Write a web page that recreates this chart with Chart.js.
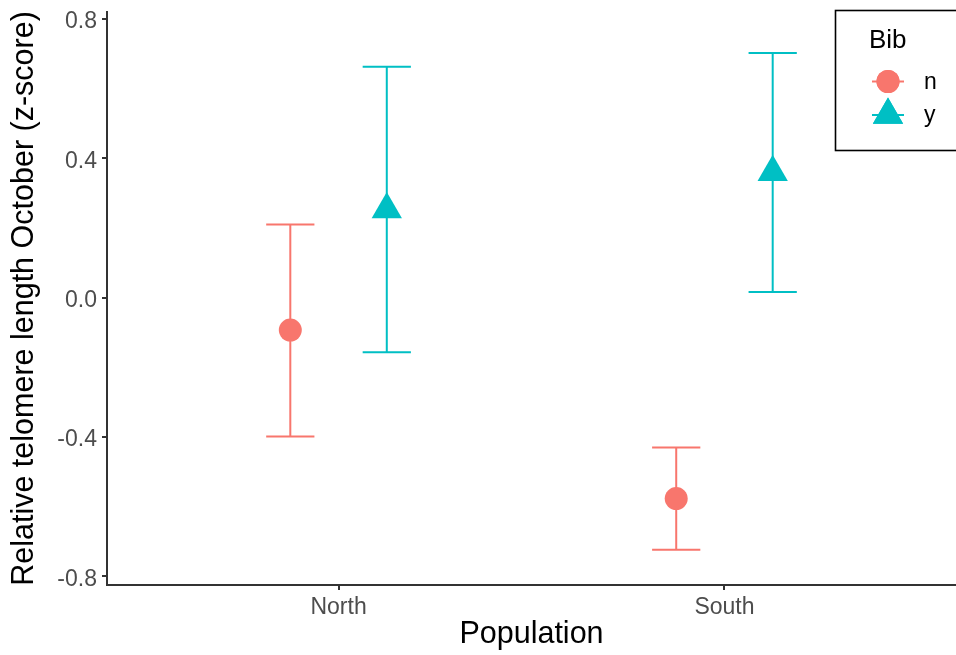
<!DOCTYPE html>
<html>
<head>
<meta charset="utf-8">
<script src="https://cdn.jsdelivr.net/npm/chart.js@4/dist/chart.umd.min.js"></script>
<style>
  html, body { margin: 0; padding: 0; background: #ffffff; }
  #wrap { width: 956px; height: 655px; position: relative; }
</style>
</head>
<body>
<div id="wrap"><canvas id="c" width="956" height="655"></canvas></div>
<script>
// ---- data ----
const categories = ['North', 'South'];
const groups = ['n', 'y'];
const nMean = [-0.093, -0.577];
const nLow  = [-0.399, -0.724];
const nHigh = [0.210, -0.430];
const yMean = [0.253, 0.360];
const yLow  = [-0.157, 0.016];
const yHigh = [0.663, 0.702];
const yTickValues = [-0.8, -0.4, 0.0, 0.4, 0.8];
const xAxisTitle = 'Population';
const yAxisTitle = 'Relative telomere length October (z-score)';
const legendTitle = 'Bib';

// ---- style ----
const COLORS = { n: '#F8766D', y: '#00BFC4' };
const DODGE = 0.125;
const CAP = 0.0625;
const FONT = "'Liberation Sans', Arial, Helvetica, sans-serif";
const AXIS = '#333333';
const TICKTXT = '#4D4D4D';

function pts(means, sign) {
  return means.map((v, i) => ({ x: i + 1 + sign * DODGE, y: v }));
}

const series = [
  { key: 'n', mean: nMean, low: nLow, high: nHigh, sign: -1, style: 'circle', radius: 11.5 },
  { key: 'y', mean: yMean, low: yLow, high: yHigh, sign: 1, style: 'triangle', radius: 17.5 }
];

const errorBarPlugin = {
  id: 'errorBars',
  beforeDatasetsDraw(chart) {
    const { ctx, scales: { x, y } } = chart;
    ctx.save();
    series.forEach(s => {
      ctx.strokeStyle = COLORS[s.key];
      ctx.lineWidth = 2;
      s.mean.forEach((m, i) => {
        const xv = i + 1 + s.sign * DODGE;
        const px = x.getPixelForValue(xv);
        const pl = x.getPixelForValue(xv - CAP);
        const pr = x.getPixelForValue(xv + CAP);
        const pt = y.getPixelForValue(s.high[i]);
        const pb = y.getPixelForValue(s.low[i]);
        ctx.beginPath();
        ctx.moveTo(px, pt); ctx.lineTo(px, pb);
        ctx.moveTo(pl, pt); ctx.lineTo(pr, pt);
        ctx.moveTo(pl, pb); ctx.lineTo(pr, pb);
        ctx.stroke();
      });
    });
    ctx.restore();
  }
};

const legendPlugin = {
  id: 'customLegend',
  afterDraw(chart) {
    const ctx = chart.ctx;
    ctx.save();
    ctx.strokeStyle = '#000000';
    ctx.lineWidth = 1.6;
    ctx.strokeRect(835.5, 10.5, 130, 140);
    ctx.fillStyle = '#000000';
    ctx.font = '26px ' + FONT;
    ctx.textAlign = 'left';
    ctx.textBaseline = 'alphabetic';
    ctx.fillText(legendTitle, 869, 48);
    const rows = [81.5, 115];
    series.forEach((s, k) => {
      const cy = rows[k];
      const cx = 888;
      ctx.strokeStyle = COLORS[s.key];
      ctx.lineWidth = 2;
      ctx.beginPath();
      ctx.moveTo(872, cy); ctx.lineTo(904, cy);
      ctx.stroke();
      ctx.fillStyle = COLORS[s.key];
      Chart.helpers.drawPoint(ctx, { pointStyle: s.style, radius: s.radius, borderWidth: 0, rotation: 0 }, cx, cy);
      ctx.fill();
      ctx.fillStyle = '#000000';
      ctx.font = '23px ' + FONT;
      ctx.textBaseline = 'middle';
      ctx.fillText(groups[k], 924, cy + 1);
    });
    ctx.restore();
  }
};

new Chart(document.getElementById('c'), {
  type: 'scatter',
  data: {
    datasets: series.map(s => ({
      label: s.key,
      data: pts(s.mean, s.sign),
      pointStyle: s.style,
      pointRadius: s.radius,
      pointHoverRadius: s.radius,
      pointBorderWidth: 0,
      backgroundColor: COLORS[s.key],
      borderColor: COLORS[s.key]
    }))
  },
  options: {
    responsive: false,
    animation: false,
    events: [],
    layout: { autoPadding: false, padding: { top: 12, right: 0, left: 0, bottom: 0 } },
    plugins: { legend: { display: false }, tooltip: { enabled: false } },
    scales: {
      x: {
        type: 'linear',
        min: 0.4,
        max: 2.6,
        afterBuildTicks(scale) { scale.ticks = categories.map((c, i) => ({ value: i + 1 })); },
        afterFit(scale) { scale.height = 70; scale.paddingLeft = 0; scale.paddingRight = 0; },
        ticks: {
          callback: (v) => categories[Math.round(v) - 1] || '',
          color: TICKTXT,
          font: { family: FONT, size: 23 },
          padding: 4,
          maxRotation: 0,
          autoSkip: false
        },
        grid: { display: true, drawOnChartArea: false, drawTicks: true, tickLength: 5, color: AXIS, lineWidth: 2 },
        border: { display: true, color: AXIS, width: 2 },
        title: { display: true, text: xAxisTitle, color: '#000000', font: { family: FONT, size: 30.5 }, padding: { top: 0, bottom: 2 } }
      },
      y: {
        type: 'linear',
        min: -0.825,
        max: 0.82,
        afterBuildTicks(scale) { scale.ticks = yTickValues.map(v => ({ value: v })); },
        afterFit(scale) { scale.width = 107; scale.paddingTop = 0; scale.paddingBottom = 0; },
        ticks: {
          callback: (v) => Number(v).toFixed(1),
          color: TICKTXT,
          font: { family: FONT, size: 23 },
          padding: 5,
          labelOffset: 3
        },
        grid: { display: true, drawOnChartArea: false, drawTicks: true, tickLength: 5, color: AXIS, lineWidth: 2 },
        border: { display: true, color: AXIS, width: 2 },
        title: { display: true, text: yAxisTitle, color: '#000000', font: { family: FONT, size: 30.5 }, padding: { top: 6, bottom: 0 } }
      }
    }
  },
  plugins: [errorBarPlugin, legendPlugin]
});
</script>
</body>
</html>
